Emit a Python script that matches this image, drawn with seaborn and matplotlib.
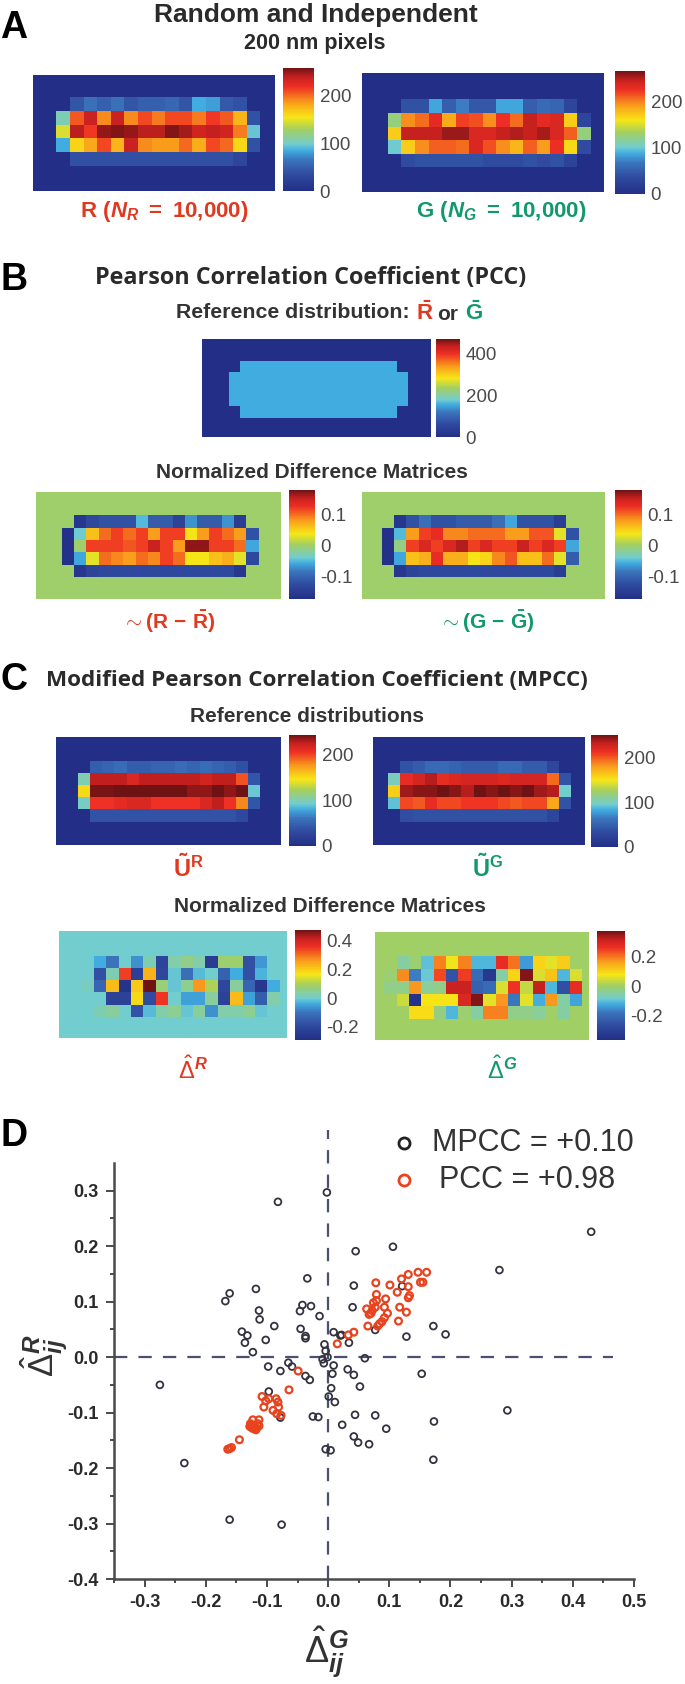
import numpy as np
import pandas as pd
import seaborn as sns
import matplotlib.pyplot as plt
from matplotlib.colors import LinearSegmentedColormap
from matplotlib.lines import Line2D

W, H = 685, 1684

# --- panel A ---
r_counts = [[0, 42, 62, 50, 62, 42, 50, 50, 55, 42, 85, 80, 45, 40, 0],
            [105, 205, 235, 190, 235, 190, 210, 195, 210, 210, 195, 215, 205, 175, 40],
            [145, 240, 215, 248, 252, 248, 240, 240, 252, 245, 232, 238, 232, 195, 95],
            [85, 162, 180, 210, 175, 235, 190, 185, 185, 200, 178, 210, 200, 160, 40],
            [0, 38, 38, 38, 38, 38, 38, 38, 38, 38, 38, 38, 38, 28, 0]]
g_counts = [[0, 40, 40, 85, 50, 70, 45, 45, 85, 85, 50, 60, 55, 30, 0],
            [125, 195, 205, 230, 185, 220, 215, 195, 225, 205, 245, 230, 235, 170, 30],
            [170, 245, 245, 245, 255, 255, 235, 235, 245, 250, 245, 252, 235, 210, 125],
            [100, 170, 195, 210, 210, 205, 235, 215, 195, 180, 210, 190, 225, 165, 35],
            [0, 35, 40, 40, 40, 40, 40, 35, 35, 35, 40, 35, 40, 25, 0]]

# --- panel B ---
mean_counts = [[0, 155, 155, 155, 155, 155, 155, 155, 155, 155, 155, 155, 155, 155, 155, 0],
               [155, 155, 155, 155, 155, 155, 155, 155, 155, 155, 155, 155, 155, 155, 155, 155],
               [155, 155, 155, 155, 155, 155, 155, 155, 155, 155, 155, 155, 155, 155, 155, 155],
               [155, 155, 155, 155, 155, 155, 155, 155, 155, 155, 155, 155, 155, 155, 155, 155],
               [0, 155, 155, 155, 155, 155, 155, 155, 155, 155, 155, 155, 155, 155, 155, 0]]
r_diff = [[0, -.16, -.13, -.12, -.12, -.12, -.05, -.11, -.11, -.14, -.07, -.11, -.11, -.07, -.15, 0],
          [-.17, -.04, .06, .10, .12, .10, .12, .08, .12, .12, .04, .08, .12, .10, .08, -.12],
          [-.17, 0, .12, .12, .12, .11, .12, .15, .12, .08, .17, .17, .12, .12, .10, -.06],
          [-.17, -.06, .03, .10, .09, .08, .10, .09, .12, .10, .04, .04, .06, .07, .03, -.13],
          [0, -.16, -.14, -.13, -.13, -.13, -.13, -.13, -.13, -.13, -.13, -.13, -.13, -.13, -.16, 0]]
g_diff = [[0, -.16, -.12, -.09, -.12, -.12, -.11, -.11, -.11, -.09, -.06, -.12, -.12, -.12, -.15, 0],
          [-.17, -.05, .08, .12, .13, .09, .09, .10, .10, .10, .08, .08, .11, .11, .03, -.12],
          [-.17, -.01, .12, .14, .12, .14, .16, .12, .14, .12, .12, .15, .12, .14, .12, -.06],
          [-.17, -.06, .06, .07, .13, .07, .07, .04, .05, .09, .11, .06, .06, .10, .03, -.11],
          [0, -.16, -.14, -.13, -.13, -.13, -.13, -.13, -.13, -.13, -.13, -.13, -.13, -.13, -.15, 0]]

# --- panel C ---
ur_counts = [[0, 45, 50, 55, 45, 45, 50, 50, 55, 50, 55, 50, 45, 35, 0],
             [100, 225, 225, 225, 215, 225, 225, 225, 225, 225, 220, 225, 225, 195, 40],
             [150, 240, 240, 245, 245, 245, 245, 245, 245, 235, 235, 250, 235, 245, 90],
             [95, 205, 205, 210, 215, 215, 205, 205, 205, 205, 215, 225, 205, 180, 40],
             [0, 38, 38, 38, 38, 38, 38, 38, 38, 38, 38, 38, 38, 30, 0]]
ug_counts = [[0, 40, 45, 55, 55, 50, 45, 45, 45, 55, 55, 45, 45, 30, 0],
             [100, 215, 225, 235, 215, 220, 225, 225, 225, 220, 225, 225, 225, 195, 40],
             [160, 240, 245, 245, 250, 245, 235, 250, 245, 250, 245, 250, 240, 235, 95],
             [90, 205, 200, 215, 205, 205, 210, 210, 210, 205, 200, 205, 205, 175, 40],
             [0, 35, 38, 38, 38, 38, 38, 38, 38, 38, 38, 38, 38, 28, 0]]
delta_r = [[0, -.04, -.10, 0, -.07, .02, -.21, .03, .06, .03, -.24, .08, .08, -.18, -.06, 0],
           [0, -.18, .02, .34, -.23, .23, -.20, -.01, -.11, -.02, 0, -.14, -.04, -.18, -.03, 0],
           [.01, -.13, .22, -.27, .20, .47, .07, -.01, .05, .26, .10, -.20, .04, -.13, -.26, -.04],
           [0, 0, -.22, -.22, .18, -.19, .35, 0, -.05, -.05, .04, -.22, .22, -.05, -.15, .03],
           [0, .02, .04, 0, -.17, -.02, .03, .05, -.01, .04, -.07, .03, .03, .05, -.01, 0]]
delta_g = [[0, -.05, -.01, -.10, .19, .07, .19, -.11, -.11, .27, .20, -.14, .10, .06, .11, 0],
           [-.01, .18, -.17, -.09, .24, -.25, .25, -.20, -.33, -.05, .10, .36, .05, .12, -.11, .05],
           [-.03, -.03, .17, -.04, -.03, .31, .31, -.22, -.20, .05, .26, .03, .32, -.11, -.26, .27],
           [0, .04, -.35, .08, .08, .08, .29, .36, .06, .17, -.18, .06, -.12, .17, -.05, -.13],
           [0, 0, .09, .09, -.02, -.11, -.01, -.05, .19, .19, -.03, -.03, -.04, 0, -.05, 0]]

# --- panel D ---
black_x = [-.275, -.235, -.161, -.076, -.168, -.161, -.118, -.082, -.002, -.034, -.113, -.112, -.088,
           -.141, -.132, -.136, -.123, -.102, -.042, -.028, -.046, -.014, -.045, -.037, -.037, -.006,
           -.004, -.001, -.009, -.007, .009, .020, .022, .034, .042, .045, .106, .040, .121, .430,
           .280, .077, .128, .172, .192, .060, .153, -.098, -.078, -.065, -.059, -.037, -.030, -.097,
           -.078, -.025, -.016, .005, .001, .011, .009, .007, .032, .042, .052, .044, .077, .095,
           .173, .293, .023, .042, .049, .067, -.004, .004, .172]
black_y = [-.050, -.191, -.293, -.302, .101, .115, .123, .280, .297, .142, .084, .068, .056,
           .046, .039, .026, .009, .031, .094, .092, .083, .074, .051, .038, .034, .023,
           .011, 0, -.004, -.011, .045, .039, .040, .026, .129, .191, .199, .090, .128, .226,
           .157, .049, .037, .056, .041, -.002, -.030, -.017, -.025, -.010, -.017, -.034, -.041, -.062,
           -.109, -.107, -.108, -.056, -.071, -.081, -.015, -.030, -.022, -.032, -.053, -.104, -.105, -.129,
           -.116, -.096, -.122, -.143, -.154, -.157, -.166, -.168, -.185]
red_x = [.161, .147, .131, .120, .151, .155, .131, .113, .133, .131, .101, .078, .079, .079, .094, .117, .128, .115,
         .063, .070, .077, .074, .092, .097, .092, .088, .081, .065, .067, .072, .084, .042, .033, .015,
         -.049, -.064, -.108, -.102, -.097, -.085, -.082, -.105, -.090, -.081, -.077, -.084,
         -.123, -.113, -.127, -.120, -.125, -.115, -.121, -.113, -.118, -.124, -.128, -.117, -.145, -.158, -.164, -.161]
red_y = [.153, .153, .149, .141, .135, .135, .127, .117, .111, .107, .130, .134, .113, .102, .105, .090, .081, .065,
         .087, .079, .090, .098, .090, .079, .071, .064, .056, .056, .077, .084, .060, .045, .040, .024,
         -.025, -.059, -.071, -.079, -.075, -.075, -.081, -.090, -.096, -.090, -.105, -.102,
         -.113, -.113, -.120, -.126, -.124, -.120, -.129, -.124, -.131, -.128, -.125, -.128, -.149, -.163, -.166, -.165]

RED = '#e0391f'
GREEN = '#12996b'
DARK = '#2a2a2a'
GREY = '#4a4a4a'

sns.set_theme(style='white')
plt.rcParams['font.family'] = ['Liberation Sans', 'DejaVu Sans']
plt.rcParams['mathtext.fontset'] = 'custom'
plt.rcParams['mathtext.rm'] = 'Liberation Sans'
plt.rcParams['mathtext.it'] = 'Liberation Sans:italic:bold'
plt.rcParams['mathtext.bf'] = 'Liberation Sans:bold'

# jet as it looks after the journal's colour conversion
jet_print = LinearSegmentedColormap.from_list('jet_print', [
    (0.0, '#232f86'), (0.13, '#2f4a9f'), (0.25, '#3b74bb'), (0.33, '#41ace0'), (0.38, '#72cdcf'),
    (0.50, '#a2cf61'), (0.60, '#f7e616'), (0.72, '#f99d1c'), (0.85, '#ee2e24'), (0.93, '#c4201f'), (1.0, '#6f1214')])

fig = plt.figure(figsize=(W / 100, H / 100), dpi=100)


def box(x0, y0, x1, y1):
    return fig.add_axes([x0 / W, 1 - y1 / H, (x1 - x0) / W, (y1 - y0) / H])


def txt(x, y, s, size=12, color=DARK, weight='bold', family=None, **kw):
    kw.setdefault('ha', 'center')
    kw.setdefault('va', 'center')
    if family:
        kw['family'] = family
    fig.text(x / W, 1 - y / H, s, fontsize=size, color=color, fontweight=weight, **kw)


def matrix(values, rect, bar, vmin, vmax, ticks, ticklabels, xoff, xtotal, yoff, ytotal):
    # 5 active rows; the rest of the image is background, cropped by the limits
    arr = np.pad(np.array(values, dtype=float), ((2, 2), (3, 3)))
    ax = box(*rect)
    cax = box(*bar)
    sns.heatmap(arr, ax=ax, cbar_ax=cax, cmap=jet_print, vmin=vmin, vmax=vmax,
                xticklabels=False, yticklabels=False)
    ax.set_xlim(3 - xoff, 3 - xoff + xtotal)
    ax.set_ylim(2 - yoff + ytotal, 2 - yoff)
    cax.set_yticks(ticks)
    cax.set_yticklabels(ticklabels)
    cax.tick_params(axis='y', length=0, pad=4, labelsize=13.5, labelcolor=GREY)


# panel letters
txt(14, 28, 'A', size=27, color='black')
txt(14, 280, 'B', size=27, color='black')
txt(14, 680, 'C', size=27, color='black')
txt(14, 1136, 'D', size=27, color='black')

# A
txt(316, 15, 'Random and Independent', size=19)
txt(315, 43, '200 nm pixels', size=15.5)
matrix(r_counts, (33, 75, 275, 191), (283, 68, 314, 191), 0, 257, [0, 100, 200], ['0', '100', '200'],
       1.72, 17.8, 1.63, 8.46)
matrix(g_counts, (362, 73, 604, 192), (615, 71, 645, 194), 0, 265, [0, 100, 200], ['0', '100', '200'],
       1.92, 17.9, 1.95, 8.77)
txt(164, 211, r'$\mathbf{R\ (}N_R\mathbf{\ =\ 10{,}000)}$', size=16, color=RED)
txt(501, 211, r'$\mathbf{G\ (}N_G\mathbf{\ =\ 10{,}000)}$', size=16, color=GREEN)

# B
txt(311, 278, 'Pearson Correlation Coefficient (PCC)', size=16.8, family='Open Sans')
txt(293, 313, 'Reference distribution:', size=15.3, color='#333333')
txt(425, 313, r'$\mathbf{\bar{R}}$', size=16, color=RED)
txt(448, 314, 'or', size=15, color='#333333')
txt(474, 313, r'$\mathbf{\bar{G}}$', size=16, color=GREEN)
matrix(mean_counts, (202, 339, 431, 437), (436, 339, 460, 437), 0, 470, [0, 200, 400], ['0', '200', '400'],
       2.43, 20.5, 1.9, 8.6)
txt(312, 472, 'Normalized Difference Matrices', size=15, color='#333333')
diff_ticks = [-.1, 0, .1]
diff_labels = ['-0.1', '0', '0.1']
matrix(r_diff, (36, 492, 281, 599), (289, 490, 315, 599), -.174, .18, diff_ticks, diff_labels,
       2.09, 19.9, 1.88, 8.66)
matrix(g_diff, (362, 492, 605, 599), (615, 490, 642, 599), -.174, .18, diff_ticks, diff_labels,
       1.6, 19.75, 1.88, 8.66)
txt(169, 622, r'$\mathbf{\sim(R\ {-}\ \bar{R})}$', size=15, color=RED)
txt(487, 622, r'$\mathbf{\sim(G\ {-}\ \bar{G})}$', size=15, color=GREEN)

# C
txt(317, 680, 'Modified Pearson Correlation Coefficient (MPCC)', size=16.2, family='Open Sans')
txt(307, 717, 'Reference distributions', size=15, color='#333333')
matrix(ur_counts, (56, 737, 281, 845), (289, 735, 316, 846), 0, 242, [0, 100, 200], ['0', '100', '200'],
       1.8, 18.5, 1.95, 8.87)
matrix(ug_counts, (373, 737, 585, 845), (591, 735, 618, 847), 0, 250, [0, 100, 200], ['0', '100', '200'],
       1.25, 17.4, 1.95, 8.87)
txt(188, 868, r'$\mathbf{\tilde{U}^R}$', size=17, color=RED)
txt(488, 868, r'$\mathbf{\tilde{U}^G}$', size=17, color=GREEN)
txt(330, 907, 'Normalized Difference Matrices', size=15, color='#333333')
matrix(delta_r, (59, 931, 287, 1038), (295, 930, 321, 1040), -.29, .47, [-.2, 0, .2, .4],
       ['-0.2', '0', '0.2', '0.4'], 1.81, 18.4, 2.0, 8.7)
matrix(delta_g, (375, 932, 589, 1040), (597, 931, 625, 1040), -.366, .373, [-.2, 0, .2],
       ['-0.2', '0', '0.2'], .75, 17.3, 1.96, 8.68)
txt(193, 1070, r'$\hat{\Delta}^R$', size=17, color=RED)
txt(502, 1070, r'$\hat{\Delta}^G$', size=17, color=GREEN)

# D
ax = box(114, 1163, 634, 1579)
black = pd.DataFrame({'x': black_x, 'y': black_y})
red = pd.DataFrame({'x': red_x, 'y': red_y})
ax.axhline(0, xmin=0, xmax=(0.465 + .35) / .85, color='#4b4f72', lw=1.6, ls=(0, (6, 5)), zorder=1)
ax.plot([0, 0], [-.4, .41], color='#4b4f72', lw=1.6, ls=(0, (6, 5)), clip_on=False, zorder=1)
sns.scatterplot(data=black, x='x', y='y', ax=ax, s=24, marker='o', facecolor='none',
                edgecolor='#333340', linewidth=1.3, zorder=3)
sns.scatterplot(data=red, x='x', y='y', ax=ax, s=24, marker='o', facecolor='none',
                edgecolor='#e8431f', linewidth=1.6, zorder=4)
ax.set_xlim(-.35, .5)
ax.set_ylim(-.4, .35)
sns.despine(ax=ax)
for side in ['left', 'bottom']:
    ax.spines[side].set_linewidth(1.8)
    ax.spines[side].set_color(GREY)
ax.set_xticks(np.arange(-.3, .51, .1))
ax.set_xticklabels(['-0.3', '-0.2', '-0.1', '0.0', '0.1', '0.2', '0.3', '0.4', '0.5'], fontweight='bold')
ax.set_yticks(np.arange(-.4, .31, .1))
ax.set_yticklabels(['-0.4', '-0.3', '-0.2', '-0.1', '0.0', '0.1', '0.2', '0.3'], fontweight='bold')
ax.set_xticks(np.arange(-.35, .5, .1), minor=True)
ax.set_yticks(np.arange(-.35, .35, .1), minor=True)
ax.tick_params(which='major', bottom=True, left=True, length=6, width=1.4, color=GREY, labelsize=13,
               labelcolor=DARK, pad=5)
ax.tick_params(which='minor', bottom=True, left=True, length=3, width=1.4, color=GREY)
ax.set_xlabel('')
ax.set_ylabel('')
ax.patch.set_alpha(0)

txt(327, 1652, r'$\hat{\Delta}^{G}_{ij}$', size=26, color='#333333', weight='normal')
txt(44, 1356, r'$\hat{\Delta}^{R}_{ij}$', size=25, color='#333333', weight='normal', rotation=90)

# legend
for y, c in [(1143, '#222222'), (1180, '#e8431f')]:
    fig.add_artist(Line2D([404 / W], [1 - y / H], marker='o', ms=8, mfc='none', mec=c, mew=2, ls=''))
txt(432, 1143, 'MPCC = +0.10', size=22, color='#333333', weight='normal', ha='left')
txt(439, 1180, 'PCC = +0.98', size=22, color='#333333', weight='normal', ha='left')

fig.savefig('out.png', dpi=100)
